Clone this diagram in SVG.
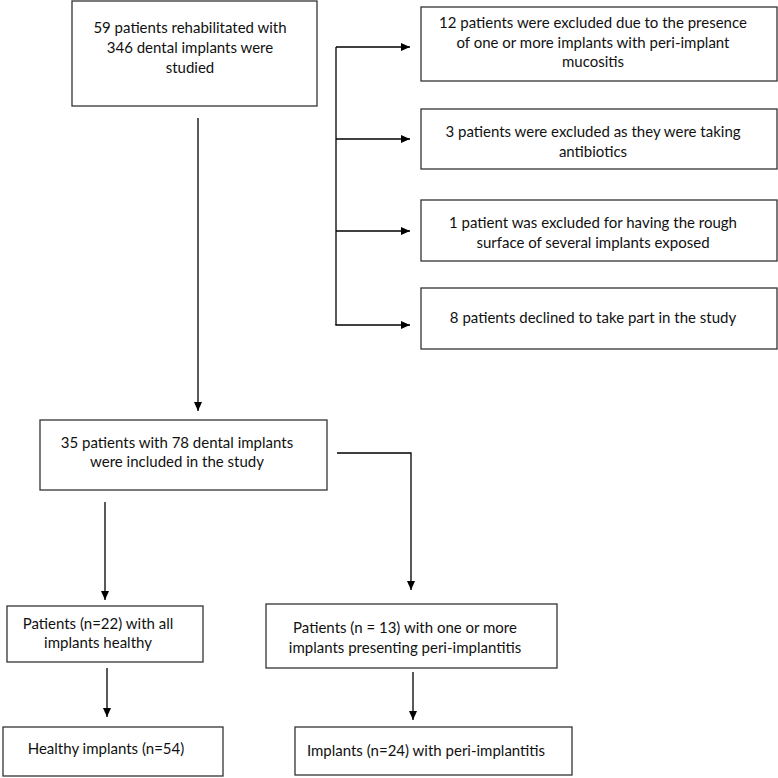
<svg xmlns="http://www.w3.org/2000/svg" width="778" height="778" viewBox="0 0 778 778">
<defs>
<marker id="ah" markerUnits="userSpaceOnUse" markerWidth="10" markerHeight="10" refX="9" refY="4" orient="auto">
<path d="M0,0 L9,4 L0,8 Z" fill="#000"/>
</marker>
<style>
.box{fill:#fff;stroke:#333;stroke-width:1.3}
.t{font-family:Lato,"Open Sans","Liberation Sans",sans-serif;font-size:15px;fill:#111;text-anchor:middle}
.c{fill:none;stroke:#000;stroke-width:1.3}
</style>
</defs>
<rect width="778" height="778" fill="#fff"/>
<g id="n1"><rect class="box" x="72" y="1" width="245" height="105"/>
<text class="t" x="190" y="33">59 patients rehabilitated with</text>
<text class="t" x="190" y="53">346 dental implants were</text>
<text class="t" x="190" y="73">studied</text></g>
<g id="e1"><rect class="box" x="421" y="7" width="356" height="74"/>
<text class="t" x="593" y="28">12 patients were excluded due to the presence</text>
<text class="t" x="593" y="48">of one or more implants with peri-implant</text>
<text class="t" x="593" y="67">mucositis</text></g>
<g id="e2"><rect class="box" x="421" y="109" width="356" height="60"/>
<text class="t" x="593" y="137">3 patients were excluded as they were taking</text>
<text class="t" x="593" y="157">antibiotics</text></g>
<g id="e3"><rect class="box" x="421" y="200" width="356" height="61"/>
<text class="t" x="593" y="228">1 patient was excluded for having the rough</text>
<text class="t" x="593" y="248">surface of several implants exposed</text></g>
<g id="e4"><rect class="box" x="421" y="288" width="356" height="61"/>
<text class="t" x="593" y="323">8 patients declined to take part in the study</text></g>
<g id="n2"><rect class="box" x="40" y="420" width="287" height="70"/>
<text class="t" x="177" y="448">35 patients with 78 dental implants</text>
<text class="t" x="177" y="467">were included in the study</text></g>
<g id="n3"><rect class="box" x="7" y="606" width="196" height="56"/>
<text class="t" x="98" y="629">Patients (n=22) with all</text>
<text class="t" x="98" y="648">implants healthy</text></g>
<g id="n4"><rect class="box" x="266" y="604" width="291" height="64"/>
<text class="t" x="405" y="633">Patients (n = 13) with one or more</text>
<text class="t" x="405" y="653">implants presenting peri-implantitis</text></g>
<g id="n5"><rect class="box" x="3" y="727" width="220" height="49"/>
<text class="t" x="106" y="754">Healthy implants (n=54)</text></g>
<g id="n6"><rect class="box" x="295" y="727" width="277" height="48"/>
<text class="t" x="426" y="756">Implants (n=24) with peri-implantitis</text></g>
<g id="connectors">
<line class="c" x1="198" y1="118" x2="198" y2="411" marker-end="url(#ah)"/>
<line class="c" x1="336" y1="47" x2="336" y2="325"/>
<line class="c" x1="336" y1="47" x2="410" y2="47" marker-end="url(#ah)"/>
<line class="c" x1="336" y1="139" x2="410" y2="139" marker-end="url(#ah)"/>
<line class="c" x1="336" y1="231" x2="410" y2="231" marker-end="url(#ah)"/>
<line class="c" x1="335.35" y1="325" x2="410" y2="325" marker-end="url(#ah)"/>
<polyline class="c" points="337,453 411,453 411,590" marker-end="url(#ah)"/>
<line class="c" x1="105" y1="502" x2="105" y2="600" marker-end="url(#ah)"/>
<line class="c" x1="107" y1="668" x2="107" y2="717" marker-end="url(#ah)"/>
<line class="c" x1="413" y1="672" x2="413" y2="720" marker-end="url(#ah)"/>
</g>
</svg>
